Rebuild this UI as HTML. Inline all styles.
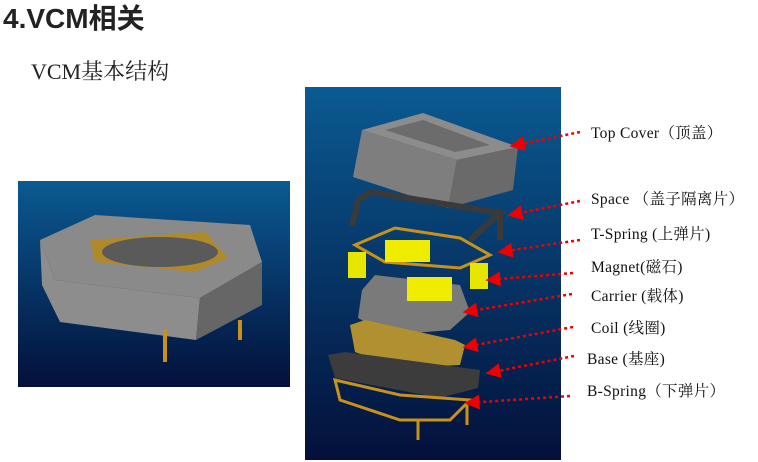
<html><head><style>
body{margin:0;width:758px;height:462px;background:#fff;overflow:hidden;position:relative;font-family:"Liberation Serif","Noto Serif CJK SC",serif}
.t{position:absolute;left:3px;top:-3px;font:bold 28px "Liberation Sans","Noto Sans CJK SC",sans-serif;color:#222}
.s{position:absolute;left:31px;top:55px;font-size:22px;color:#222}
.l{position:absolute;font-size:15.5px;color:#111;white-space:nowrap;letter-spacing:0.3px}
</style></head><body>
<div class="t">4.VCM相关</div>
<div class="s">VCM基本结构</div>
<svg width="758" height="462" style="position:absolute;left:0;top:0">
<defs>
<linearGradient id="g" x1="0" y1="0" x2="0" y2="1"><stop offset="0" stop-color="#0a5a92"/><stop offset="1" stop-color="#03103a"/></linearGradient>
<marker id="a" markerWidth="6" markerHeight="6" refX="5" refY="3" orient="auto"><path d="M0,0L6,3L0,6z" fill="#e00"/></marker>
</defs>
<rect x="18" y="181" width="272" height="206" fill="url(#g)"/>
<path d="M40,240 L95,215 L250,225 L262,262 L200,298 L55,280z" fill="#8a8a8a"/>
<path d="M90,240 L205,232 L228,258 L195,272 L95,262z" fill="#b08a2a"/>
<ellipse cx="160" cy="252" rx="58" ry="15" fill="#5a5a5a"/>
<path d="M40,240 L55,280 L200,298 L196,340 L60,322 L42,285z" fill="#8d8d8d"/>
<path d="M200,298 L262,262 L262,305 L196,340z" fill="#666"/>
<path d="M165,330 v32 M240,320 v20" stroke="#c8921a" stroke-width="4"/>
<rect x="305" y="87" width="256" height="373" fill="url(#g)"/>
<path d="M362,130 L423,113 L518,147 L457,160z" fill="#8c8c8c"/>
<path d="M385,130 L423,120 L490,145 L455,152z" fill="#6c6c6c"/>
<path d="M362,130 L457,160 L448,208 L353,177z" fill="#7e7e7e"/>
<path d="M457,160 L518,147 L513,190 L448,208z" fill="#6a6a6a"/>
<path d="M358,200 L370,192 L500,213 L470,240" fill="none" stroke="#3a3a3a" stroke-width="6"/>
<path d="M358,200 L352,226 M500,213 L500,240" stroke="#3a3a3a" stroke-width="6"/>
<path d="M355,245 L395,228 L460,238 L490,255 L460,268 L385,262z" fill="none" stroke="#c8921a" stroke-width="3"/>
<rect x="385" y="240" width="45" height="22" fill="#f0ec00"/>
<rect x="348" y="252" width="18" height="26" fill="#e6e600"/>
<rect x="470" y="263" width="18" height="26" fill="#e6e600"/>
<path d="M362,290 L375,275 L460,285 L470,312 L450,330 L390,335 L358,318z" fill="#7a7a7a"/>
<rect x="407" y="277" width="45" height="24" fill="#f0ec00"/>
<path d="M350,325 L365,320 L455,340 L465,345 L460,365 L400,368 L355,352z" fill="#b09030"/>
<path d="M328,355 L345,352 L480,370 L478,388 L440,398 L335,378z" fill="#3c3c3c"/>
<path d="M335,380 L400,395 L470,400 L450,420 L400,420 L340,400z" fill="none" stroke="#c8921a" stroke-width="3"/>
<path d="M418,420 v20 M467,405 v20" stroke="#c8921a" stroke-width="3"/>
<g stroke="#e00" stroke-width="2.5" stroke-dasharray="3,3" fill="none" marker-end="url(#a)">
<path d="M580,132 L512,146"/><path d="M580,201 L510,215"/><path d="M580,240 L500,252"/><path d="M573,273 L488,280"/><path d="M572,294 L465,312"/><path d="M573,327 L465,347"/><path d="M574,356 L488,373"/><path d="M570,396 L467,403"/>
</g>
</svg>
<div class="l" style="left:591px;top:121px">Top Cover（顶盖）</div>
<div class="l" style="left:591px;top:187px">Space （盖子隔离片）</div>
<div class="l" style="left:591px;top:222px">T-Spring (上弹片)</div>
<div class="l" style="left:591px;top:255px">Magnet(磁石)</div>
<div class="l" style="left:591px;top:284px">Carrier (载体)</div>
<div class="l" style="left:591px;top:316px">Coil (线圈)</div>
<div class="l" style="left:587px;top:347px">Base (基座)</div>
<div class="l" style="left:587px;top:379px">B-Spring（下弹片）</div>
</body></html>
